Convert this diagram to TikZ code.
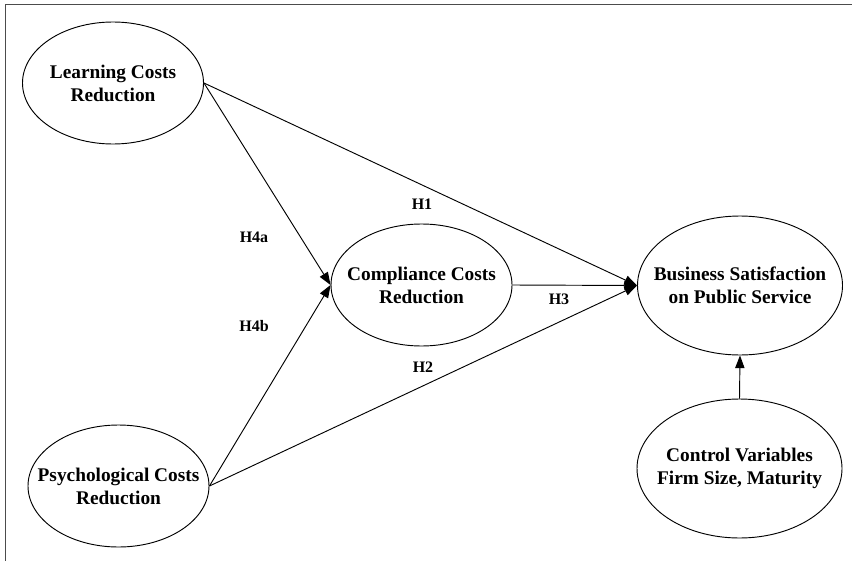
\documentclass[tikz,border=0pt]{standalone}
\usepackage{fontspec}
\setmainfont{Liberation Serif}
\usetikzlibrary{shapes.geometric}
\usetikzlibrary{arrows.meta}

\begin{document}
\begin{tikzpicture}[
    x=0.75pt, y=-0.75pt,
    latent/.style={draw, ellipse, line width=0.7pt, inner sep=-50pt, minimum width=135.75pt, minimum height=91.5pt, align=center, font=\fontsize{14.5}{17.3}\selectfont\bfseries},
    biglatent/.style={latent, minimum width=153.75pt, minimum height=104.25pt},
    link/.style={-{Triangle[length=9.5pt,width=7pt]}, line width=0.7pt},
    hyp/.style={font=\fontsize{12}{14}\selectfont\bfseries}
]
    \useasboundingbox (0,0) rectangle (852,560);
    % outer frame
    \draw[black!70, line width=1.1pt] (5.5,4.5) rectangle (900,600);

    % constructs
    \node[latent] (lcr) at (113,83) {Learning Costs\\Reduction};
    \node[latent] (pcr) at (118.5,486) {Psychological Costs\\Reduction};
    \node[latent] (ccr) at (421.5,285) {Compliance Costs\\Reduction};
    \node[biglatent] (bsps) at (740,285.5) {Business Satisfaction\\on Public Service};
    \node[biglatent] (ctrl) at (739.5,468.5) {Control Variables\\Firm Size, Maturity};

    % hypothesised paths
    \draw[link] (lcr.east) -- (ccr.west);
    \draw[link] (pcr.east) -- (ccr.west);
    \draw[link] (lcr.east) -- (bsps.west);
    \draw[link] (ccr.east) -- (bsps.west);
    \draw[link] (pcr.east) -- (bsps.west);
    \draw[link] (ctrl.north) -- (bsps.south);

    % path labels
    \node[hyp] (h1) at (422,204) {H1};
    \node[hyp] (h2) at (423,367) {H2};
    \node[hyp] (h3) at (559,299) {H3};
    \node[hyp] (h4a) at (254,237) {H4a};
    \node[hyp] (h4b) at (254,326) {H4b};
\end{tikzpicture}
\end{document}
